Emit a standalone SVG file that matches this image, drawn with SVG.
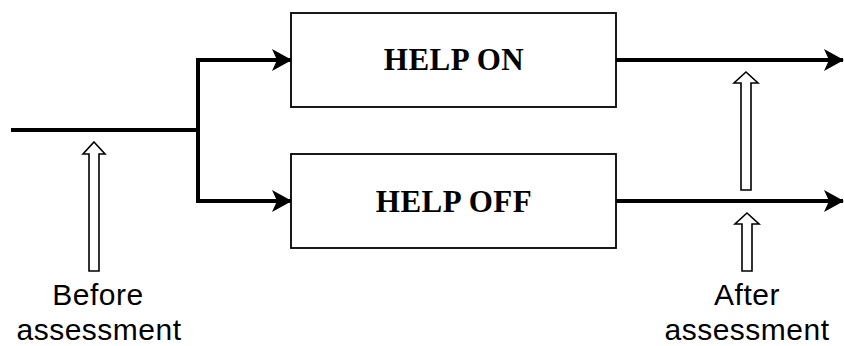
<svg xmlns="http://www.w3.org/2000/svg" width="844" height="346" viewBox="0 0 844 346">
<style>
.box{fill:#fff;stroke:#000;stroke-width:1.8}
.lbl{font-family:"Liberation Serif",serif;font-weight:bold;font-size:31px;text-anchor:middle;letter-spacing:0.5px}
.cap{font-family:"Liberation Sans",Arial,sans-serif;font-size:30px;text-anchor:middle;letter-spacing:0.5px}
.wire{fill:none;stroke:#000;stroke-width:4}
.hollow{fill:#fff;stroke:#000;stroke-width:1.6;stroke-linejoin:miter}
</style>
<defs>
<marker id="ah" markerUnits="userSpaceOnUse" markerWidth="20" markerHeight="22" refX="19" refY="11" orient="auto">
<path d="M0,0 L20,11 L0,22 L5,11 Z" fill="#000"/>
</marker>
</defs>
<rect width="844" height="346" fill="#fff"/>
<g id="connectors">
<path class="wire" d="M11,130 H198"/>
<path class="wire" d="M198,60 V201"/>
<path class="wire" d="M196,60 H291" marker-end="url(#ah)"/>
<path class="wire" d="M196,201 H291" marker-end="url(#ah)"/>
<path class="wire" d="M616,60 H843" marker-end="url(#ah)"/>
<path class="wire" d="M616,201 H843" marker-end="url(#ah)"/>
</g>
<g id="help-on">
<rect class="box" x="291" y="13" width="325" height="94"/>
<text class="lbl" x="454" y="70">HELP ON</text>
</g>
<g id="help-off">
<rect class="box" x="291" y="154" width="325" height="94"/>
<text class="lbl" x="454" y="212">HELP OFF</text>
</g>
<g id="before-assessment">
<path class="hollow" d="M94,142 L105,154 L99,154 L99,271 L89,271 L89,154 L83,154 Z"/>
<text class="cap" x="98" y="305">Before</text>
<text class="cap" x="99" y="340">assessment</text>
</g>
<g id="after-assessment">
<path class="hollow" d="M746,72 L758,83 L751,83 L751,190 L741,190 L741,83 L734,83 Z"/>
<path class="hollow" d="M747,213 L759,224 L752,224 L752,271 L742,271 L742,224 L735,224 Z"/>
<text class="cap" x="747" y="305">After</text>
<text class="cap" x="747" y="340">assessment</text>
</g>
</svg>
